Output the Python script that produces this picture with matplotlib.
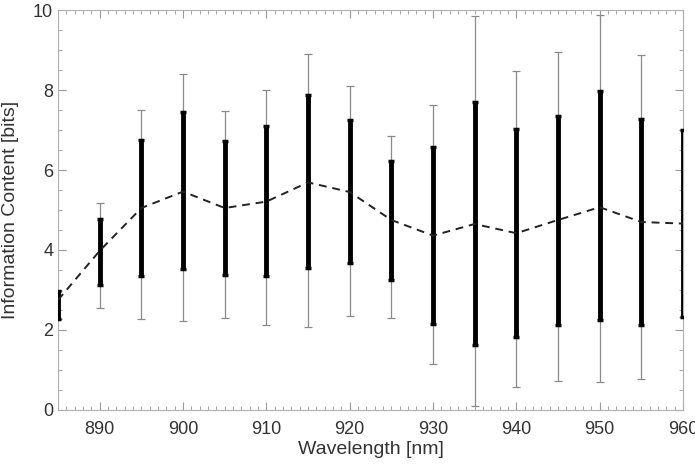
"""Information content per wavelength with inner/outer ranges."""

import matplotlib
matplotlib.use("Agg")

import matplotlib.pyplot as plt
import numpy as np
from matplotlib.ticker import MultipleLocator

wavelength = [885, 890, 895, 900, 905, 910, 915, 920, 925, 930, 935, 940, 945, 950, 955, 960]
median = [2.75, 3.98, 5.05, 5.46, 5.05, 5.21, 5.69, 5.45, 4.75, 4.36, 4.65, 4.42, 4.75, 5.07, 4.70, 4.66]
inner_low = [2.28, 3.12, 3.36, 3.52, 3.38, 3.36, 3.55, 3.67, 3.25, 2.15, 1.62, 1.83, 2.12, 2.25, 2.12, 2.33]
inner_high = [2.98, 4.78, 6.75, 7.44, 6.73, 7.11, 7.88, 7.26, 6.23, 6.57, 7.71, 7.02, 7.34, 7.97, 7.27, 7.00]
outer_low = [2.28, 2.54, 2.27, 2.23, 2.30, 2.13, 2.08, 2.34, 2.30, 1.15, 0.10, 0.57, 0.73, 0.69, 0.77, 2.33]
outer_high = [2.98, 5.17, 7.50, 8.40, 7.48, 8.00, 8.90, 8.11, 6.86, 7.63, 9.86, 8.47, 8.94, 9.88, 8.88, 7.00]

plt.rcParams["font.family"] = ["Liberation Sans", "DejaVu Sans"]

x = np.array(wavelength)
med = np.array(median)

fig = plt.figure(figsize=(6.95, 4.66), dpi=100)
ax = fig.add_axes([0.0835, 0.1202, 0.8992, 0.8583])

# outer range: thin gray bars
ax.errorbar(x, med, yerr=[med - np.array(outer_low), np.array(outer_high) - med],
            fmt="none", ecolor="#8a8a8a", elinewidth=0.9, capsize=3, capthick=0.9,
            clip_on=True, zorder=2)
# inner range: thick black bars
ax.errorbar(x, med, yerr=[med - np.array(inner_low), np.array(inner_high) - med],
            fmt="none", ecolor="black", elinewidth=3.5, capsize=2.5, capthick=2.5,
            clip_on=True, zorder=3)
ax.plot(x, med, color="#222222", linestyle=(0, (4, 3)), linewidth=1.4, zorder=4)

ax.set_xlim(885, 960)
ax.set_ylim(0, 10)
ax.xaxis.set_major_locator(MultipleLocator(10))
ax.xaxis.set_minor_locator(MultipleLocator(1))
ax.yaxis.set_major_locator(MultipleLocator(2))
ax.yaxis.set_minor_locator(MultipleLocator(0.5))
ax.set_xticks([890, 900, 910, 920, 930, 940, 950, 960])

ax.tick_params(which="both", direction="in", top=True, right=True, colors="#999999",
               labelcolor="#333333", labelsize=13)
ax.tick_params(which="major", length=6, width=0.8)
ax.tick_params(which="minor", length=3, width=0.6)
ax.tick_params(axis="x", which="major", pad=8)
for sp in ax.spines.values():
    sp.set_color("#b0b0b0")
    sp.set_linewidth(0.8)

ax.set_xlabel("Wavelength [nm]", fontsize=14, color="#333333", labelpad=2)
ax.set_ylabel("Information Content [bits]", fontsize=14, color="#333333", labelpad=10)

fig.savefig("out.png", dpi=100)
plt.close(fig)
